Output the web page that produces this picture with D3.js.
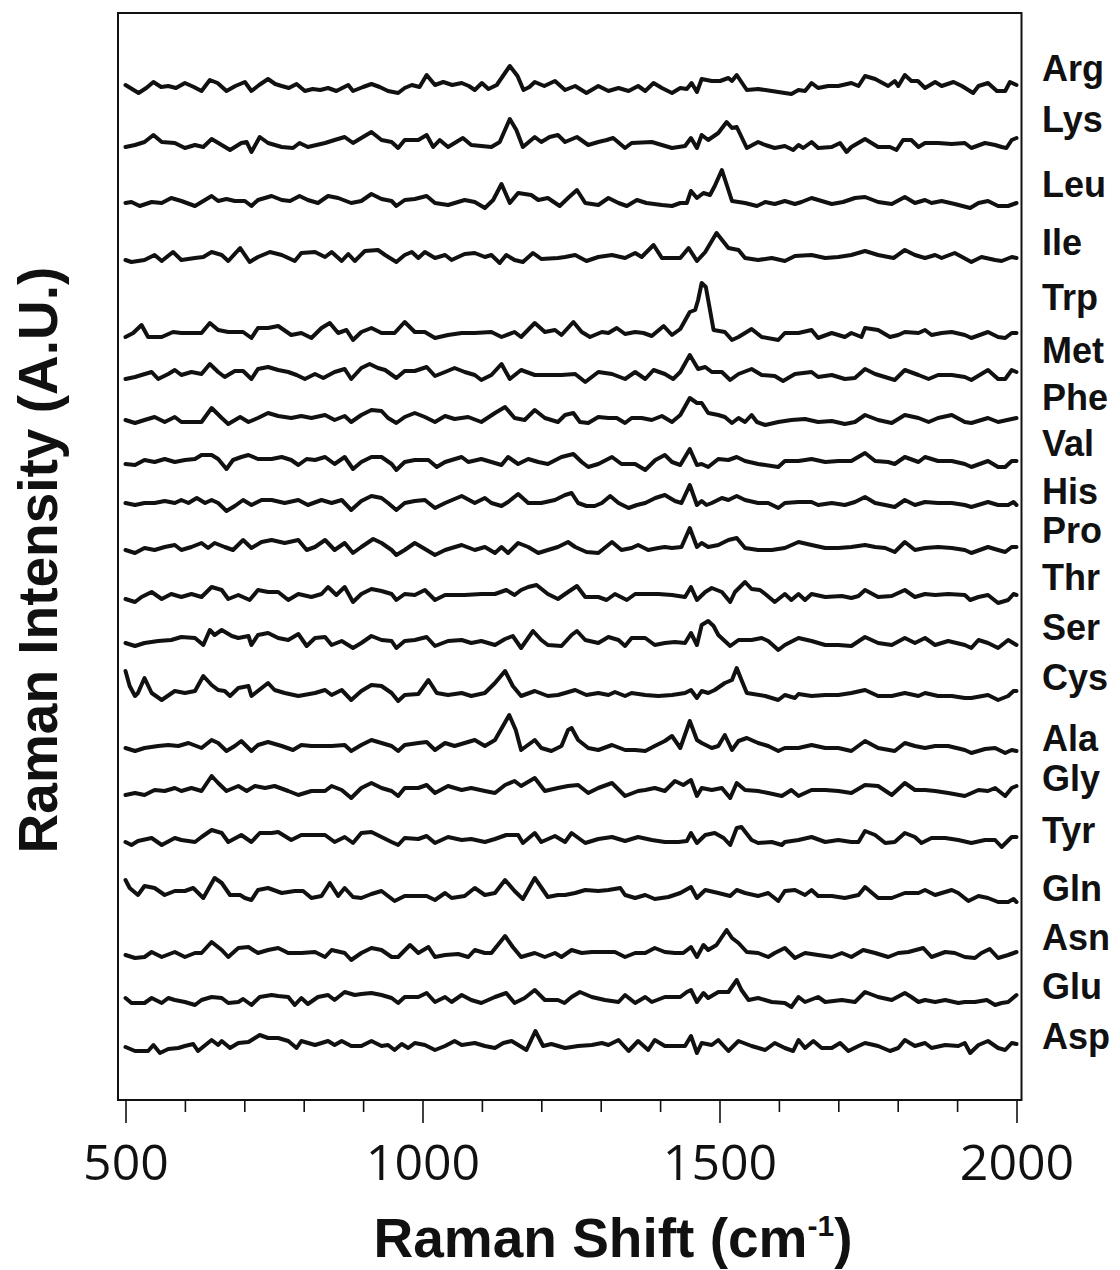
<!DOCTYPE html>
<html>
<head>
<meta charset="utf-8">
<script src="https://cdn.jsdelivr.net/npm/d3@7"></script>
<style>
  body { margin: 0; background: #fff; }
  text { font-family: "Liberation Sans", Arial, sans-serif; }
</style>
</head>
<body>
<div id="raman-graph"></div>
<script>
// amino acid names, top to bottom
var names = ["Arg","Lys","Leu","Ile","Trp","Met","Phe","Val","His","Pro","Thr","Ser","Cys","Ala","Gly","Tyr","Gln","Asn","Glu","Asp"];
// vertical stacking offset of each spectrum (A.U.)
var offsets = [1012,955,897,840,765,723,680,638,597,550,503,457,407,352,307,260,207,145,100,52];
// level where each name sits (A.U.)
var labelLevels = [1032,981,916,858,803,750,703,657,609,570,523,473,423,362,322,270,212,163,114,64];
var majorTicks = [500,1000,1500,2000];
var minorTicks = [600,700,800,900,1100,1200,1300,1400,1600,1700,1800,1900];

// spectra as [wavenumber, intensity]
var arg = [[500,3],[522,-5],[535,0],[547,6],[560,1],[572,2],[585,0],[600,5],[615,1],[628,-3],[642,8],[655,5],[670,-3],[685,2],[701,6],[712,-3],[725,3],[740,9],[752,4],[763,2],[775,0],[788,4],[802,-3],[815,-1],[828,-2],[841,0],[855,-3],[875,3],[883,-3],[900,1],[914,4],[928,1],[942,-3],[959,-5],[970,0],[982,3],[995,1],[1007,13],[1021,3],[1035,6],[1050,3],[1066,5],[1078,2],[1088,-2],[1100,5],[1111,-1],[1125,3],[1147,22],[1160,12],[1170,-2],[1180,1],[1189,6],[1205,2],[1223,7],[1240,-2],[1257,2],[1276,-5],[1296,2],[1313,-3],[1330,0],[1347,-3],[1363,2],[1375,-3],[1389,5],[1403,0],[1420,-5],[1434,0],[1445,-1],[1453,5],[1462,-4],[1470,9],[1487,7],[1501,7],[1515,10],[1521,7],[1529,13],[1546,-2],[1565,-1],[1588,-3],[1621,-6],[1633,-2],[1644,-3],[1655,5],[1666,0],[1683,2],[1700,2],[1722,5],[1734,2],[1745,12],[1762,9],[1784,2],[1795,7],[1801,2],[1812,13],[1823,7],[1834,7],[1846,0],[1863,6],[1874,2],[1894,6],[1908,2],[1927,-5],[1936,2],[1952,5],[1967,-3],[1981,-3],[1989,6],[2000,3]];
var lys = [[500,-2],[516,0],[532,3],[547,10],[561,3],[583,2],[600,-3],[617,0],[631,-2],[645,6],[662,0],[676,-5],[695,2],[704,3],[712,-7],[726,8],[740,2],[763,-2],[782,-3],[793,2],[807,-2],[836,2],[852,5],[869,8],[883,2],[897,7],[914,13],[931,5],[948,3],[959,-3],[970,5],[993,5],[1007,10],[1018,-2],[1029,5],[1043,-2],[1068,7],[1082,0],[1116,-2],[1130,3],[1147,26],[1158,15],[1169,-2],[1189,8],[1200,3],[1214,8],[1228,10],[1240,3],[1260,8],[1279,0],[1296,3],[1310,5],[1321,7],[1341,-3],[1352,2],[1386,3],[1420,-3],[1442,-1],[1452,7],[1462,-3],[1470,10],[1481,5],[1498,12],[1512,23],[1521,17],[1529,18],[1546,-3],[1565,3],[1577,0],[1593,-3],[1610,-1],[1624,-5],[1633,0],[1641,-3],[1655,3],[1666,-3],[1689,-2],[1703,2],[1714,-7],[1722,-2],[1745,6],[1767,-2],[1787,-2],[1798,-5],[1809,5],[1823,5],[1835,-2],[1846,2],[1868,2],[1891,1],[1913,2],[1924,-3],[1947,2],[1964,0],[1975,-2],[1983,-3],[1992,5],[2000,7]];
var leu = [[500,0],[510,1],[524,-3],[544,1],[561,0],[577,5],[594,2],[617,-3],[631,2],[645,7],[656,2],[670,4],[684,2],[701,2],[712,-3],[723,3],[746,7],[763,3],[777,2],[793,7],[807,3],[824,0],[841,7],[858,5],[880,0],[897,2],[914,9],[931,4],[948,2],[956,-3],[970,3],[987,4],[1007,7],[1021,0],[1043,-2],[1071,3],[1088,1],[1105,-5],[1119,3],[1133,19],[1147,0],[1161,10],[1183,8],[1195,3],[1211,5],[1231,-3],[1245,5],[1260,13],[1274,0],[1296,-2],[1313,5],[1330,0],[1344,-3],[1361,3],[1377,0],[1403,-2],[1420,-3],[1434,0],[1445,0],[1452,12],[1462,5],[1473,10],[1484,8],[1492,17],[1504,33],[1515,13],[1521,2],[1543,0],[1563,-3],[1577,1],[1593,-1],[1610,2],[1627,-1],[1638,1],[1655,5],[1672,2],[1689,-1],[1708,1],[1728,5],[1745,6],[1767,1],[1790,-1],[1812,6],[1829,0],[1846,3],[1857,0],[1874,2],[1896,-1],[1922,-5],[1936,0],[1952,2],[1969,-3],[1986,-3],[2000,0]];
var ile = [[500,0],[510,-2],[532,0],[549,5],[561,-1],[580,8],[594,0],[617,2],[631,3],[645,8],[662,5],[673,-1],[693,12],[709,-2],[723,3],[743,8],[763,5],[785,-1],[796,7],[819,8],[836,3],[847,8],[864,-1],[875,6],[886,-1],[903,9],[925,10],[937,5],[956,-2],[970,5],[982,8],[993,2],[1004,8],[1021,2],[1038,5],[1049,0],[1071,6],[1088,7],[1105,3],[1116,5],[1130,-3],[1141,5],[1155,0],[1169,-2],[1186,7],[1200,1],[1228,2],[1240,3],[1257,5],[1276,-1],[1296,3],[1319,5],[1341,2],[1358,7],[1369,3],[1389,15],[1403,2],[1420,2],[1434,2],[1448,12],[1462,-1],[1476,8],[1495,27],[1515,12],[1532,10],[1543,2],[1565,0],[1588,2],[1610,-1],[1627,4],[1655,5],[1678,2],[1700,3],[1722,5],[1745,9],[1767,5],[1793,2],[1812,10],[1829,5],[1846,2],[1863,5],[1874,2],[1896,7],[1924,-2],[1941,3],[1964,0],[1975,-1],[1992,3],[2000,2]];
var trp = [[500,-2],[513,2],[527,10],[538,-2],[561,-2],[580,3],[594,2],[628,2],[642,12],[656,5],[673,3],[698,3],[712,-3],[723,7],[740,7],[757,9],[779,0],[796,2],[813,-3],[830,7],[844,12],[858,2],[872,5],[883,-5],[897,3],[914,7],[931,2],[953,2],[970,13],[987,3],[1004,3],[1021,-3],[1043,0],[1066,2],[1088,2],[1116,3],[1133,-2],[1155,3],[1166,-2],[1189,12],[1206,3],[1223,5],[1234,0],[1254,13],[1268,3],[1282,-2],[1302,3],[1313,2],[1327,7],[1341,1],[1358,3],[1372,2],[1386,-1],[1406,9],[1420,0],[1434,6],[1450,23],[1459,25],[1464,35],[1470,52],[1477,48],[1484,25],[1490,5],[1509,3],[1521,-5],[1532,-2],[1554,6],[1571,-2],[1599,-5],[1610,2],[1633,2],[1655,5],[1666,-3],[1689,2],[1711,-2],[1722,2],[1739,-2],[1745,7],[1767,5],[1787,-2],[1801,0],[1812,3],[1835,2],[1846,5],[1857,0],[1874,2],[1891,3],[1913,0],[1924,-3],[1952,3],[1969,-2],[1981,-3],[1992,2],[2000,2]];
var met = [[500,-2],[516,0],[527,2],[544,5],[555,-2],[572,3],[583,7],[594,2],[611,5],[628,3],[642,13],[656,5],[667,0],[684,6],[698,6],[712,-2],[723,8],[740,10],[757,7],[774,5],[788,2],[802,-2],[819,3],[833,-1],[852,5],[869,8],[880,-2],[897,9],[911,13],[925,9],[937,7],[956,-1],[970,6],[987,6],[1007,10],[1021,1],[1038,5],[1054,9],[1071,5],[1088,2],[1099,-3],[1116,2],[1133,13],[1147,-2],[1166,7],[1189,2],[1211,2],[1234,2],[1257,3],[1274,-5],[1296,5],[1319,3],[1341,-2],[1358,5],[1375,-2],[1389,7],[1408,3],[1422,-2],[1434,5],[1450,22],[1464,8],[1476,10],[1487,5],[1504,5],[1518,-3],[1532,3],[1554,8],[1571,2],[1593,1],[1607,-4],[1627,3],[1655,5],[1666,0],[1689,2],[1711,-2],[1728,-1],[1745,8],[1762,3],[1795,-3],[1812,7],[1835,2],[1852,-2],[1868,2],[1891,2],[1913,0],[1924,-3],[1952,7],[1969,-2],[1981,-2],[1992,7],[2000,5]];
var phe = [[500,0],[516,-3],[532,0],[549,3],[566,-2],[583,3],[594,-2],[628,-2],[645,12],[662,2],[673,-4],[693,3],[707,-2],[723,2],[740,7],[757,4],[779,2],[796,4],[813,2],[836,5],[852,0],[869,4],[880,-2],[897,5],[914,10],[931,9],[942,2],[956,-3],[970,3],[987,7],[1004,3],[1021,-2],[1038,4],[1054,1],[1077,3],[1099,-2],[1122,7],[1139,13],[1155,2],[1172,0],[1189,10],[1206,2],[1228,-2],[1240,5],[1254,7],[1265,-2],[1279,-3],[1296,3],[1313,2],[1327,2],[1341,-3],[1352,2],[1369,2],[1386,0],[1403,4],[1420,-2],[1434,5],[1450,22],[1462,17],[1470,17],[1481,7],[1498,5],[1509,3],[1521,-3],[1532,2],[1543,-2],[1554,5],[1563,-2],[1577,-5],[1599,-2],[1621,0],[1644,1],[1666,-2],[1689,-1],[1711,-4],[1728,-2],[1745,5],[1767,0],[1790,-3],[1812,5],[1835,2],[1852,-2],[1868,2],[1891,5],[1913,-2],[1924,-3],[1952,2],[1969,-2],[1992,1],[2000,2]];
var val = [[500,-2],[516,-3],[532,2],[549,0],[566,3],[583,0],[600,2],[617,3],[628,7],[645,7],[656,3],[670,-7],[681,2],[695,5],[707,7],[723,3],[746,3],[763,5],[779,2],[791,-3],[805,3],[819,2],[836,5],[852,-2],[869,5],[883,-7],[897,0],[914,5],[931,5],[948,-2],[956,-8],[970,0],[987,2],[1010,2],[1024,-5],[1038,0],[1066,5],[1077,0],[1099,3],[1116,0],[1133,-3],[1144,5],[1161,-2],[1178,3],[1195,0],[1211,-2],[1234,5],[1254,8],[1268,0],[1279,-5],[1296,-2],[1319,5],[1335,-2],[1358,-2],[1375,-8],[1392,2],[1408,7],[1420,0],[1434,-3],[1450,13],[1462,-3],[1470,-2],[1481,-5],[1498,3],[1515,2],[1529,5],[1543,1],[1565,-2],[1599,-5],[1610,1],[1633,1],[1655,3],[1678,0],[1700,1],[1722,1],[1745,9],[1762,1],[1784,0],[1795,-2],[1812,5],[1835,0],[1846,5],[1868,1],[1891,1],[1913,-2],[1924,-5],[1952,1],[1969,-5],[1981,-5],[1992,1],[2000,1]];
var his = [[500,0],[516,-2],[532,0],[549,0],[566,2],[583,0],[594,3],[606,0],[620,5],[634,0],[645,3],[656,0],[670,-8],[684,-3],[698,3],[712,-2],[729,3],[746,3],[768,0],[791,3],[807,-2],[830,3],[847,0],[864,3],[880,-7],[897,2],[914,7],[931,5],[942,0],[956,-7],[970,0],[987,2],[1004,3],[1021,-5],[1038,0],[1066,7],[1088,0],[1105,5],[1116,0],[1133,-3],[1144,1],[1161,9],[1178,0],[1200,0],[1223,3],[1240,8],[1251,10],[1262,0],[1276,-3],[1290,-3],[1302,0],[1316,7],[1330,0],[1347,-5],[1361,-2],[1375,0],[1392,5],[1408,8],[1425,2],[1436,0],[1450,18],[1462,-2],[1470,2],[1478,-2],[1487,0],[1504,5],[1515,3],[1529,7],[1543,3],[1565,0],[1582,0],[1599,-5],[1610,0],[1633,1],[1655,1],[1666,-2],[1689,0],[1711,-2],[1728,1],[1745,6],[1762,0],[1779,-2],[1795,-4],[1812,3],[1829,-2],[1846,1],[1868,0],[1891,0],[1913,-2],[1924,-4],[1952,1],[1969,-2],[1986,-2],[1995,1],[2000,-2]];
var pro = [[500,0],[516,-3],[532,2],[549,0],[566,3],[583,5],[594,0],[611,3],[628,7],[639,2],[650,7],[667,3],[681,0],[698,10],[712,2],[729,8],[746,10],[768,7],[791,10],[805,0],[819,3],[836,10],[852,0],[869,7],[883,-3],[897,3],[917,11],[931,7],[948,0],[956,-5],[970,0],[987,7],[1007,0],[1021,-5],[1038,0],[1066,5],[1088,0],[1105,3],[1122,-3],[1133,3],[1144,-3],[1161,7],[1178,3],[1195,-3],[1211,0],[1228,3],[1245,8],[1257,3],[1276,-2],[1296,-3],[1319,8],[1335,0],[1352,2],[1363,5],[1380,0],[1397,2],[1408,3],[1420,2],[1436,3],[1450,22],[1462,3],[1470,7],[1481,3],[1498,5],[1515,10],[1529,12],[1543,2],[1565,0],[1588,0],[1610,2],[1633,8],[1655,5],[1678,2],[1700,2],[1722,3],[1745,5],[1762,3],[1779,2],[1795,-2],[1812,8],[1829,0],[1846,2],[1868,3],[1891,2],[1913,0],[1924,-3],[1952,3],[1969,0],[1981,-2],[1992,3],[2000,3]];
var thr = [[500,-2],[516,-5],[527,0],[544,5],[561,-2],[577,3],[594,0],[611,3],[628,0],[645,10],[662,7],[673,-2],[690,2],[709,-3],[723,7],[740,5],[757,5],[774,-3],[791,3],[813,0],[830,3],[841,10],[855,2],[869,10],[883,-5],[897,3],[914,8],[931,6],[948,3],[956,-3],[970,3],[987,2],[1004,7],[1021,-3],[1038,2],[1071,2],[1099,3],[1122,3],[1141,7],[1155,2],[1166,7],[1178,10],[1192,12],[1211,3],[1228,-2],[1245,5],[1260,11],[1274,0],[1296,0],[1310,-3],[1324,3],[1344,-3],[1358,3],[1380,3],[1397,3],[1420,2],[1442,0],[1452,10],[1462,-3],[1476,5],[1487,9],[1504,5],[1518,-5],[1526,5],[1543,15],[1554,8],[1568,7],[1577,3],[1593,-5],[1610,3],[1621,-3],[1633,3],[1644,-3],[1655,3],[1678,0],[1706,1],[1722,-1],[1734,1],[1745,7],[1767,0],[1790,1],[1812,7],[1829,0],[1846,3],[1863,2],[1885,3],[1913,2],[1922,-3],[1936,0],[1952,2],[1969,-6],[1986,-3],[1995,3],[2000,2]];
var ser = [[500,0],[516,-3],[532,0],[555,2],[577,3],[594,6],[617,5],[631,-2],[642,13],[650,8],[662,13],[679,7],[690,5],[707,7],[712,-2],[723,8],[740,10],[757,5],[774,3],[791,9],[805,-3],[819,5],[836,6],[847,-2],[864,2],[883,-5],[897,0],[914,7],[931,3],[948,2],[956,-5],[970,2],[987,3],[1007,6],[1021,-3],[1043,2],[1066,3],[1082,0],[1099,2],[1122,-2],[1139,4],[1152,7],[1166,-5],[1186,12],[1200,3],[1211,-2],[1234,-3],[1251,8],[1260,12],[1274,3],[1296,0],[1313,6],[1330,3],[1341,-3],[1352,5],[1375,5],[1391,-2],[1408,0],[1425,1],[1442,0],[1452,10],[1462,-2],[1470,18],[1481,22],[1490,17],[1498,8],[1518,-3],[1532,3],[1554,3],[1571,5],[1582,2],[1599,-7],[1610,-2],[1633,5],[1655,2],[1678,-2],[1700,-2],[1722,-3],[1745,6],[1767,0],[1790,-2],[1812,5],[1829,0],[1846,5],[1863,-2],[1885,2],[1913,-2],[1924,-5],[1936,3],[1952,0],[1969,-5],[1986,3],[2000,-2]];
var cys = [[500,22],[507,7],[516,-3],[521,0],[532,15],[544,0],[561,-7],[583,2],[600,0],[617,2],[631,17],[645,8],[656,3],[667,2],[676,-3],[690,5],[707,7],[712,-3],[740,10],[751,3],[768,0],[791,-3],[819,0],[836,3],[847,-2],[864,3],[880,-7],[897,2],[914,8],[931,7],[948,0],[959,-8],[970,-2],[993,-1],[1010,13],[1024,0],[1043,-2],[1066,0],[1082,-3],[1105,0],[1122,10],[1139,22],[1152,7],[1166,-3],[1189,2],[1211,-3],[1228,-2],[1240,0],[1257,3],[1276,-2],[1296,0],[1313,-2],[1324,1],[1341,-3],[1352,0],[1375,-2],[1397,-3],[1420,-2],[1442,0],[1452,3],[1462,-5],[1470,2],[1481,0],[1492,3],[1509,10],[1521,13],[1529,25],[1537,13],[1546,0],[1577,-3],[1599,-7],[1610,-2],[1627,-5],[1633,-1],[1655,-3],[1678,-2],[1700,-2],[1722,0],[1745,3],[1767,-3],[1790,-3],[1812,0],[1835,-3],[1846,0],[1868,-3],[1891,-3],[1913,-5],[1924,-5],[1952,-2],[1969,-7],[1986,-3],[1995,2],[2000,2]];
var ala = [[500,0],[516,-3],[532,0],[555,2],[572,3],[589,2],[606,5],[628,0],[645,8],[656,5],[670,-3],[684,2],[695,7],[712,-3],[723,3],[740,6],[763,2],[782,-2],[796,3],[813,2],[830,2],[847,2],[869,3],[880,-3],[897,3],[914,8],[931,5],[948,2],[959,-3],[970,3],[993,5],[1007,6],[1021,-2],[1038,5],[1054,2],[1071,5],[1088,8],[1105,2],[1122,8],[1146,33],[1157,18],[1166,-2],[1189,8],[1200,0],[1217,-3],[1234,2],[1245,18],[1251,20],[1262,8],[1279,0],[1296,-2],[1319,3],[1341,-2],[1358,-2],[1375,-3],[1391,2],[1408,7],[1420,12],[1434,0],[1450,27],[1462,8],[1470,5],[1487,0],[1498,2],[1509,13],[1521,-2],[1532,7],[1546,10],[1565,5],[1582,2],[1599,-3],[1610,0],[1633,0],[1655,3],[1678,0],[1700,0],[1722,-3],[1745,7],[1767,0],[1795,-3],[1812,5],[1829,2],[1846,0],[1863,2],[1885,2],[1913,-2],[1924,-5],[1947,-1],[1964,0],[1981,-5],[1992,-2],[2000,-3]];
var gly = [[500,-2],[516,0],[532,-2],[549,3],[566,2],[583,5],[594,2],[611,5],[628,2],[645,17],[656,10],[670,2],[690,7],[704,2],[718,7],[735,5],[751,7],[774,2],[791,-2],[813,2],[836,2],[847,7],[864,3],[880,-5],[897,5],[914,10],[931,5],[948,2],[959,-3],[970,5],[993,5],[1007,8],[1021,0],[1043,7],[1066,3],[1082,5],[1105,2],[1122,0],[1139,8],[1155,12],[1166,7],[1189,15],[1206,2],[1228,5],[1245,7],[1262,8],[1279,0],[1296,5],[1319,10],[1341,-3],[1363,2],[1375,3],[1391,5],[1408,2],[1425,12],[1439,8],[1452,13],[1462,-3],[1470,5],[1487,3],[1504,5],[1518,-5],[1529,10],[1543,3],[1565,2],[1582,0],[1605,-3],[1621,3],[1633,-3],[1655,3],[1678,3],[1700,2],[1722,0],[1745,8],[1767,7],[1790,-2],[1812,10],[1829,3],[1846,3],[1863,2],[1885,0],[1913,-3],[1936,3],[1952,2],[1964,5],[1981,-3],[1992,5],[2000,7]];
var tyr = [[500,-2],[510,-5],[521,-1],[544,2],[561,-5],[583,2],[594,0],[617,-2],[628,3],[645,10],[662,7],[673,-2],[695,5],[712,-2],[726,7],[746,7],[757,8],[779,0],[796,5],[819,5],[836,5],[852,-2],[869,3],[883,-3],[897,7],[914,8],[931,3],[948,-2],[959,-5],[970,2],[993,1],[1007,4],[1021,-3],[1043,3],[1066,0],[1082,1],[1105,-2],[1122,1],[1141,5],[1161,5],[1169,-3],[1189,7],[1200,-2],[1223,4],[1240,-2],[1251,7],[1274,-3],[1296,1],[1319,3],[1341,-1],[1363,3],[1386,0],[1408,-2],[1431,-2],[1445,-1],[1452,7],[1462,-3],[1476,5],[1492,7],[1507,2],[1518,-5],[1529,12],[1537,13],[1554,0],[1565,-3],[1588,-2],[1605,-5],[1610,-2],[1633,0],[1655,3],[1678,-2],[1700,0],[1722,-2],[1734,-2],[1745,9],[1762,5],[1779,-3],[1795,-2],[1812,7],[1829,3],[1840,-3],[1857,2],[1880,2],[1902,0],[1924,-3],[1947,0],[1964,0],[1975,-7],[1992,3],[2000,3]];
var gln = [[500,13],[507,5],[521,-2],[532,7],[549,5],[566,-2],[583,2],[600,2],[614,5],[631,-5],[650,15],[662,10],[676,-2],[693,-2],[701,-5],[712,-7],[723,3],[740,5],[763,0],[785,2],[799,2],[813,-5],[830,-3],[844,10],[858,-3],[869,5],[883,-4],[897,-5],[914,-1],[931,2],[953,-8],[970,-3],[993,-3],[1007,-3],[1021,-7],[1038,0],[1049,-5],[1071,-3],[1088,5],[1105,-2],[1122,0],[1139,13],[1155,2],[1169,-6],[1189,15],[1211,-4],[1228,-2],[1240,-2],[1257,0],[1274,3],[1296,2],[1313,3],[1333,5],[1341,-2],[1358,-5],[1375,-2],[1391,-6],[1414,-4],[1434,0],[1452,6],[1462,-5],[1476,3],[1498,0],[1518,-3],[1529,3],[1543,0],[1565,-3],[1582,0],[1599,-8],[1610,2],[1627,3],[1644,-2],[1655,3],[1666,-3],[1689,-3],[1711,-5],[1734,-2],[1745,6],[1767,-5],[1790,-5],[1812,0],[1835,0],[1846,3],[1863,-2],[1891,3],[1902,0],[1919,-8],[1936,-3],[1952,-5],[1969,-9],[1986,-9],[1995,-6],[2000,-9]];
var asn = [[500,0],[516,-3],[532,-2],[544,3],[561,-2],[583,3],[600,-2],[617,2],[628,2],[645,13],[662,5],[673,-2],[690,7],[707,8],[723,2],[740,5],[757,7],[774,2],[796,2],[819,3],[836,-2],[847,5],[869,2],[880,-5],[897,2],[914,7],[931,5],[948,-2],[959,-2],[979,10],[993,2],[1010,8],[1021,-2],[1038,0],[1060,1],[1077,-2],[1088,5],[1105,2],[1116,2],[1139,19],[1152,8],[1166,-2],[1189,2],[1206,-2],[1223,2],[1234,-2],[1251,5],[1268,2],[1285,3],[1302,3],[1324,3],[1341,-2],[1358,2],[1375,2],[1391,7],[1408,3],[1425,2],[1439,2],[1452,8],[1462,-2],[1473,10],[1481,5],[1495,10],[1504,18],[1512,25],[1521,17],[1532,12],[1546,3],[1565,2],[1582,-2],[1593,2],[1610,7],[1627,-3],[1644,2],[1666,0],[1689,-2],[1706,2],[1722,-2],[1742,5],[1762,2],[1784,-2],[1801,2],[1818,3],[1843,7],[1857,-2],[1880,3],[1896,2],[1913,-2],[1930,-3],[1941,2],[1955,6],[1969,-3],[1986,0],[2000,3]];
var glu = [[500,2],[510,-3],[532,-3],[544,2],[561,-3],[572,2],[583,0],[600,-2],[617,-5],[628,0],[645,3],[662,2],[673,-3],[690,-2],[698,1],[712,-5],[726,3],[746,5],[757,4],[774,3],[785,-5],[796,2],[807,-4],[824,3],[841,5],[852,0],[869,8],[886,5],[897,6],[914,7],[931,5],[948,2],[959,-3],[970,3],[993,3],[1007,7],[1021,-2],[1038,3],[1049,-2],[1066,5],[1082,0],[1099,-3],[1122,3],[1141,7],[1155,-3],[1172,2],[1189,10],[1206,0],[1228,0],[1239,-3],[1251,3],[1265,8],[1285,3],[1307,0],[1330,-2],[1341,5],[1358,-3],[1375,3],[1386,-2],[1408,3],[1434,3],[1445,8],[1452,10],[1462,-2],[1473,7],[1481,2],[1498,8],[1515,8],[1529,20],[1537,10],[1549,0],[1565,2],[1588,-2],[1610,-3],[1621,-7],[1633,3],[1644,-2],[1666,3],[1678,-2],[1706,0],[1728,-2],[1745,8],[1767,3],[1790,0],[1812,7],[1823,3],[1835,-2],[1846,0],[1863,-2],[1880,0],[1902,-3],[1913,-2],[1930,-2],[1950,0],[1964,-5],[1975,-3],[1986,-2],[2000,5]];
var asp = [[500,1],[516,-3],[538,-3],[547,3],[558,-5],[572,-1],[589,0],[600,2],[614,4],[622,-3],[645,8],[656,3],[662,7],[676,0],[690,5],[707,6],[726,13],[740,10],[757,10],[774,7],[788,0],[796,7],[819,3],[841,7],[852,3],[864,7],[880,2],[897,2],[914,7],[931,2],[942,3],[953,-2],[965,4],[976,0],[987,5],[1004,3],[1021,-2],[1038,2],[1054,7],[1066,3],[1088,5],[1105,2],[1122,0],[1136,5],[1150,7],[1164,2],[1175,-2],[1190,17],[1203,2],[1217,4],[1240,0],[1262,2],[1285,3],[1302,5],[1313,3],[1330,8],[1347,-3],[1363,7],[1380,-2],[1391,8],[1408,2],[1434,2],[1442,2],[1452,12],[1462,-5],[1470,5],[1487,3],[1498,8],[1515,-3],[1532,7],[1554,2],[1577,-2],[1593,5],[1610,0],[1624,-3],[1633,8],[1644,0],[1658,7],[1672,0],[1689,0],[1703,5],[1717,-3],[1734,2],[1745,5],[1767,2],[1787,-3],[1801,0],[1812,8],[1829,2],[1846,5],[1857,0],[1880,3],[1902,2],[1913,5],[1922,-5],[1936,3],[1952,7],[1969,0],[1981,-2],[1992,5],[2000,4]];

var spectra = [arg,lys,leu,ile,trp,met,phe,val,his,pro,thr,ser,cys,ala,gly,tyr,gln,asn,glu,asp];

// set the dimensions of the graph
var W = 1120, H = 1270;
var plot = {left: 118, right: 1021.5, top: 13, bottom: 1100};

var svg = d3.select("#raman-graph")
  .append("svg")
    .attr("width", W)
    .attr("height", H);

var x = d3.scaleLinear()
    .domain([500, 2000])
    .range([125.5, 1016.5]);

var y = d3.scaleLinear()
    .domain([0, plot.bottom - plot.top])
    .range([plot.bottom, plot.top]);

// frame
svg.append("rect")
    .attr("x", plot.left)
    .attr("y", plot.top)
    .attr("width", plot.right - plot.left)
    .attr("height", plot.bottom - plot.top)
    .attr("fill", "none")
    .attr("stroke", "#111")
    .attr("stroke-width", 2);

// minor ticks, no labels
var minorAxis = svg.append("g")
    .attr("transform", "translate(0," + plot.bottom + ")")
    .call(d3.axisBottom(x).tickValues(minorTicks).tickSize(12).tickFormat(""));

// major ticks with labels
var majorAxis = svg.append("g")
    .attr("transform", "translate(0," + plot.bottom + ")")
    .call(d3.axisBottom(x).tickValues(majorTicks).tickSize(23).tickPadding(21).tickFormat(d3.format("d")));

svg.selectAll(".domain").remove();
svg.selectAll(".tick line").attr("stroke", "#111").attr("stroke-width", 1.6);
majorAxis.selectAll("text")
    .style("font-family", "'Open Sans', sans-serif")
    .style("font-size", "50px")
    .attr("fill", "#111");

// the spectra
var line = d3.line()
    .x(function(d) { return x(d[0]); })
    .y(function(d) { return y(d[1]); })
    .curve(d3.curveLinear);

svg.append("g").selectAll("path")
  .data(spectra)
  .enter().append("path")
    .attr("d", function(s, i) {
      return line(s.map(function(p) { return [p[0], offsets[i] + p[1]]; }));
    })
    .attr("fill", "none")
    .attr("stroke", "#111")
    .attr("stroke-width", 4)
    .attr("stroke-linejoin", "round")
    .attr("stroke-linecap", "round");

// names on the right
svg.append("g").selectAll("text")
  .data(names)
  .enter().append("text")
    .attr("x", 1042)
    .attr("y", function(d, i) { return y(labelLevels[i]) + 13; })
    .text(function(d) { return d; })
    .style("font-size", "36px")
    .style("font-weight", "bold")
    .attr("fill", "#111");

// axis titles
svg.append("text")
    .attr("transform", "translate(57,560) rotate(-90)")
    .attr("text-anchor", "middle")
    .style("font-size", "55px")
    .style("font-weight", "bold")
    .attr("fill", "#111")
    .text("Raman Intensity (A.U.)");

var xt = svg.append("text")
    .attr("x", 613)
    .attr("y", 1257)
    .attr("text-anchor", "middle")
    .style("font-size", "55px")
    .style("font-weight", "bold")
    .attr("fill", "#111");
xt.append("tspan").text("Raman Shift (cm");
xt.append("tspan").attr("dy", -21).style("font-size", "30px").text("-1");
xt.append("tspan").attr("dy", 21).text(")");
</script>
</body>
</html>
